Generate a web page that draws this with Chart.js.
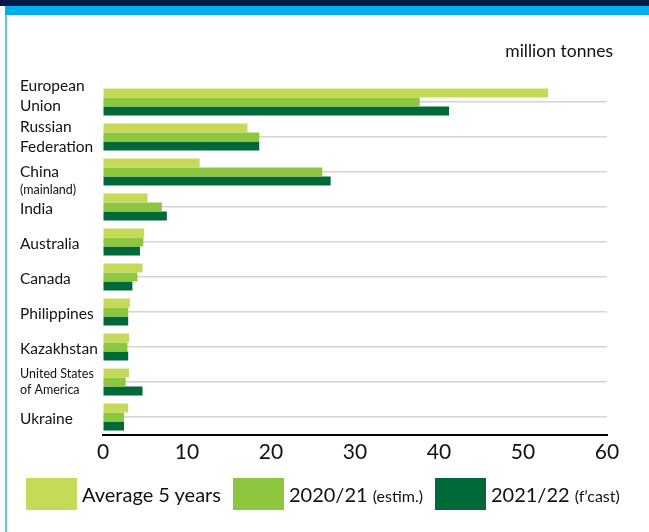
<!DOCTYPE html>
<html>
<head>
<meta charset="utf-8">
<script src="https://cdn.jsdelivr.net/npm/chart.js@4"></script>
<style>
  body { margin: 0; background: #fff; font-family: Lato, sans-serif; color: #111; }
  #wrap { position: relative; width: 649px; height: 532px; overflow: hidden; }
  .navy { position: absolute; left: 0; top: 0; width: 649px; height: 6px; background: #001a4a; }
  .blue { position: absolute; left: 5px; top: 6px; right: 0; height: 9px; background: #00aeef; }
  .side { position: absolute; left: 5px; top: 15px; bottom: 0; width: 2px; background: #5cc6f0; }
  #unit { position: absolute; right: 36px; top: 40px; font-size: 17.5px; }
  canvas { position: absolute; left: 0; top: 0; }
  #legend { position: absolute; left: 26px; top: 478px; height: 32px; display: flex; align-items: center; }
  #legend .box { width: 51px; height: 32px; margin-right: 5px; }
  #legend .txt { font-size: 20px; margin-right: 12px; white-space: nowrap; }
  #legend .txt small { font-size: 16px; }
</style>
</head>
<body>
<div id="wrap">
  <div class="navy"></div>
  <div class="blue"></div>
  <div class="side"></div>
  <canvas id="chart" width="649" height="532"></canvas>
  <div id="unit">million tonnes</div>
  <div id="legend"></div>
</div>
<script>
// categories (one entry per line of the label)
const categories = [
  ['European', 'Union'],
  ['Russian', 'Federation'],
  ['China', '(mainland)'],
  ['India'],
  ['Australia'],
  ['Canada'],
  ['Philippines'],
  ['Kazakhstan'],
  ['United States', 'of America'],
  ['Ukraine'],
]
const smallLines = ['(mainland)', 'United States', 'of America']

// series, million tonnes
const avg5Years = [53.0, 17.2, 11.5, 5.3, 4.9, 4.7, 3.2, 3.1, 3.1, 3.0]
const est2020 = [37.7, 18.6, 26.1, 7.0, 4.8, 4.1, 3.0, 2.9, 2.7, 2.5]
const fcast2021 = [41.2, 18.6, 27.1, 7.6, 4.4, 3.5, 3.0, 3.0, 4.7, 2.5]

const seriesNames = [['Average 5 years', ''], ['2020/21', '(estim.)'], ['2021/22', '(f’cast)']]
const seriesColors = ['#c5da58', '#8dc63f', '#00693a']
const xTicks = [0, 10, 20, 30, 40, 50, 60]

// multi-font labels on the left, placed from the y scale
const yLabels = {
  id: 'yLabels',
  afterDraw(chart) {
    const { ctx, scales } = chart
    ctx.save()
    ctx.fillStyle = '#111'
    ctx.textAlign = 'left'
    ctx.textBaseline = 'middle'
    categories.forEach((lines, i) => {
      const yc = scales.y.getPixelForValue(i)
      const hs = lines.map((l) => (smallLines.includes(l) ? 16 : 20))
      // a bracketed note hangs below the name, otherwise centre the block
      let y = lines[1] && lines[1][0] === '(' ? yc - hs[0] / 2 : yc - hs.reduce((a, b) => a + b, 0) / 2
      if (i === 0) y -= 6
      if (lines.length === 1) y += 1.5
      lines.forEach((l, j) => {
        const small = smallLines.includes(l)
        ctx.font = (small ? '12.5px' : '15.5px') + ' Lato'
        ctx.fillText(l, 20, y + hs[j] / 2)
        y += hs[j]
      })
    })
    ctx.restore()
  },
}

const chart = new Chart(document.getElementById('chart'), {
  type: 'bar',
  data: {
    labels: categories,
    datasets: [avg5Years, est2020, fcast2021].map((d, i) => ({
      label: seriesNames[i].join(' '),
      data: d,
      backgroundColor: seriesColors[i],
      categoryPercentage: 0.77,
      barPercentage: 1,
    })),
  },
  options: {
    indexAxis: 'y',
    responsive: false,
    animation: false,
    layout: { padding: { left: 0, right: 42, top: 84.5, bottom: 57.5 } },
    plugins: { legend: { display: false }, tooltip: { enabled: false } },
    scales: {
      x: {
        min: 0,
        max: 60,
        afterBuildTicks: (s) => { s.ticks = xTicks.map((v) => ({ value: v })) },
        ticks: { font: { family: 'Lato', size: 21 }, color: '#111', padding: 5 },
        grid: { drawOnChartArea: false, drawTicks: false },
        border: { color: '#000', width: 2 },
        afterFit: (s) => { s.height = 40 },
      },
      y: {
        grid: { offset: false, color: '#d4d4d4', lineWidth: 1.5, drawTicks: false },
        border: { display: false },
        ticks: { display: false },
        afterFit: (s) => { s.width = 103 },
      },
    },
  },
  plugins: [yLabels],
})

// html legend built from the datasets
const legend = document.getElementById('legend')
chart.data.datasets.forEach((ds, i) => {
  const box = document.createElement('div')
  box.className = 'box'
  box.style.background = ds.backgroundColor
  const txt = document.createElement('div')
  txt.className = 'txt'
  txt.innerHTML = seriesNames[i][0] + (seriesNames[i][1] ? ' <small>' + seriesNames[i][1] + '</small>' : '')
  legend.appendChild(box)
  legend.appendChild(txt)
})
</script>
</body>
</html>
